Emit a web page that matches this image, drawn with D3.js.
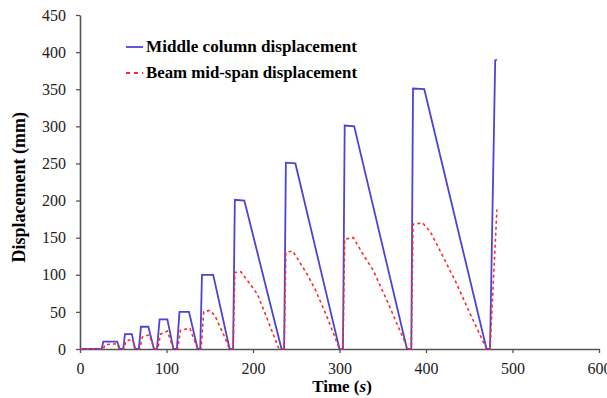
<!DOCTYPE html>
<html>
<head>
<meta charset="utf-8">
<script src="https://cdn.jsdelivr.net/npm/d3@7"></script>
<style>
  body { margin: 0; background: #fff; }
  svg { display: block; }
  .tick text { font-family: "Liberation Serif", serif; font-size: 16px; fill: #222; }
</style>
</head>
<body>
<svg id="chart" width="607" height="398"></svg>
<script>
// middle column displacement (mm) vs time (s)
var colTime = [0, 25, 27, 43, 46, 50, 52, 60, 63.5, 68, 70.5, 79, 85.5, 89, 92, 101, 108, 112, 115, 126, 136,
    139, 141, 154, 173, 177, 179, 190, 233, 236, 238, 249, 300, 304, 306, 317, 378, 383, 385, 398, 470, 474, 480, 482];
var colDisp = [0, 0, 10, 10, 0, 0, 20, 20, 0, 0, 30, 30, 0, 0, 40, 40, 0, 0, 50, 50, 0,
    0, 100, 100, 0, 0, 201, 200, 0, 0, 251, 250, 0, 0, 301, 300, 0, 0, 351, 350, 0, 0, 389, 390];

// beam mid-span displacement (mm) vs time (s)
var beamTime = [0, 27, 29, 42, 46, 51, 53, 61, 64, 69, 72, 80, 86, 90, 93, 101, 108, 113, 116, 127, 136,
    140, 143, 150, 156, 165, 173, 177, 179, 186, 195, 205, 215, 230, 236, 238, 246, 255, 263, 272, 285, 300,
    304, 306, 316, 326, 339, 355, 379, 383, 385, 396, 405, 416, 435, 452, 470, 474, 482];
var beamDisp = [0, 0, 6, 7, 0, 0, 11, 13, 0, 0, 16, 19, 0, 0, 20, 24, 0, 0, 25, 28, 0,
    0, 50, 52, 45, 22, 0, 0, 103, 104, 90, 74, 45, 0, 0, 130, 132, 115, 100, 80, 45, 0,
    0, 148, 150, 130, 106, 65, 0, 0, 168, 170, 158, 133, 89, 45, 0, 0, 188];

var xTicks = [0, 100, 200, 300, 400, 500, 600];
var yTicks = [0, 50, 100, 150, 200, 250, 300, 350, 400, 450];
var legendLabels = ["Middle column displacement", "Beam mid-span displacement"];

var svg = d3.select('#chart');

var x = d3.scaleLinear().domain([0, 600]).range([80, 599]);
var y = d3.scaleLinear().domain([0, 450]).range([349, 15]);

var xAxis = svg.append('g')
    .attr('transform', 'translate(0,' + y(0) + ')')
    .call(d3.axisBottom(x).tickValues(xTicks).tickSize(4).tickPadding(10).tickSizeOuter(0));
var yAxis = svg.append('g')
    .attr('transform', 'translate(' + x(0) + ',0)')
    .call(d3.axisLeft(y).tickValues(yTicks).tickSize(4).tickPadding(10).tickSizeOuter(0));

[xAxis, yAxis].forEach(function(a) {
    a.select('.domain').attr('stroke', '#555').attr('stroke-width', 1.6);
    a.selectAll('.tick line').attr('stroke', '#555').attr('stroke-width', 1.3);
});

var line = d3.line()
    .x(function(d) { return x(d[0]); })
    .y(function(d) { return y(d[1]); });

var beamPts = beamTime.map(function(t, i) { return [t, beamDisp[i]]; });
var colPts = colTime.map(function(t, i) { return [t, colDisp[i]]; });

svg.append('path')
    .datum(colPts)
    .attr('fill', 'none')
    .attr('stroke', '#4d44d4')
    .attr('stroke-width', 1.8)
    .attr('d', line);

svg.append('path')
    .datum(beamPts)
    .attr('fill', 'none')
    .attr('stroke', '#ff2a2a')
    .attr('stroke-width', 1.6)
    .attr('stroke-dasharray', '3,3')
    .attr('d', line);

// legend
var legend = svg.append('g').attr('font-family', '"Liberation Serif", serif')
    .attr('font-size', 16).attr('font-weight', 'bold');
legendLabels.forEach(function(lab, i) {
    var ly = 47 + i * 26;
    legend.append('line')
        .attr('x1', 126).attr('x2', 143).attr('y1', ly).attr('y2', ly)
        .attr('stroke', i == 0 ? '#4d44d4' : '#ff2a2a')
        .attr('stroke-width', 1.8)
        .attr('stroke-dasharray', i == 0 ? null : '4,4');
    legend.append('text')
        .attr('x', 146).attr('y', ly + 5)
        .attr('textLength', 211)
        .attr('lengthAdjust', 'spacingAndGlyphs')
        .text(lab);
});

// axis titles
svg.append('text')
    .attr('transform', 'translate(25,' + y(218) + ') rotate(-90)')
    .attr('text-anchor', 'middle')
    .attr('font-family', '"Liberation Serif", serif')
    .attr('font-size', 18).attr('font-weight', 'bold')
    .text('Displacement (mm)');

var tt = svg.append('text')
    .attr('x', 342).attr('y', 392)
    .attr('text-anchor', 'middle')
    .attr('font-family', '"Liberation Serif", serif')
    .attr('font-size', 17).attr('font-weight', 'bold');
tt.append('tspan').text('Time (');
tt.append('tspan').attr('font-style', 'italic').text('s');
tt.append('tspan').text(')');
</script>
</body>
</html>
